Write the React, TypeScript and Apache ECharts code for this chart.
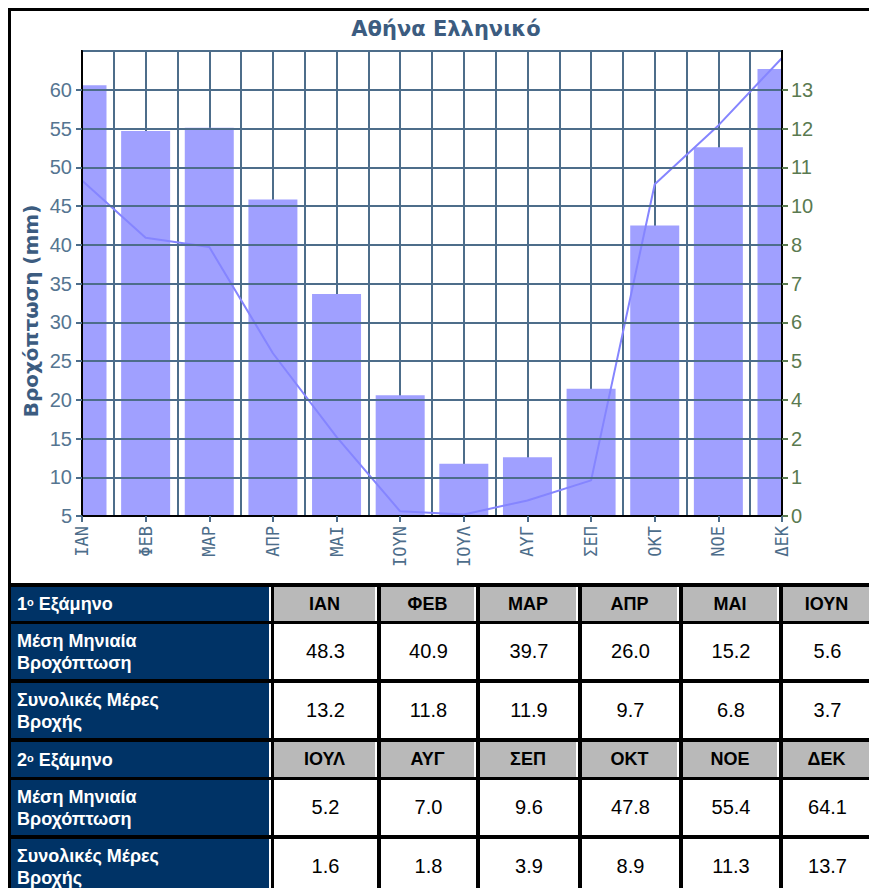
import React, { useEffect, useRef } from "react";
import * as echarts from "echarts";

const months = ["ΙΑΝ", "ΦΕΒ", "ΜΑΡ", "ΑΠΡ", "ΜΑΙ", "ΙΟΥΝ", "ΙΟΥΛ", "ΑΥΓ", "ΣΕΠ", "ΟΚΤ", "ΝΟΕ", "ΔΕΚ"];
const rainfall = [48.3, 40.9, 39.7, 26.0, 15.2, 5.6, 5.2, 7.0, 9.6, 47.8, 55.4, 64.1];
const rainDays = [13.2, 11.8, 11.9, 9.7, 6.8, 3.7, 1.6, 1.8, 3.9, 8.9, 11.3, 13.7];
const titleText = "Αθήνα Ελληνικό";
const yName = "Βροχόπτωση (mm)";

const semester1 = months.slice(0, 6);
const semester2 = months.slice(6);
const rowLabelRain = ["Μέση Μηνιαία", "Βροχόπτωση"];
const rowLabelDays = ["Συνολικές Μέρες", "Βροχής"];

const GRID_LINE = "#4d6d8a";
const BAR_WIDTH = 49;

function Chart() {
  const ref = useRef<HTMLDivElement>(null);
  useEffect(() => {
    if (!ref.current) return;
    const chart = echarts.init(ref.current, undefined, { renderer: "svg" });
    chart.setOption({
      animation: false,
      grid: {
        left: 71,
        top: 40,
        width: 700,
        height: 465,
        show: true,
        borderColor: "#000",
        borderWidth: 2,
        backgroundColor: "transparent",
      },
      graphic: [
        {
          type: "text",
          x: 435,
          y: 18,
          style: {
            text: titleText,
            fill: "#3c5c80",
            font: "bold 21px 'DejaVu Sans'",
            align: "center",
            verticalAlign: "middle",
          },
        },
        {
          type: "text",
          x: 20,
          y: 300,
          rotation: Math.PI / 2,
          style: {
            text: yName,
            fill: "#3c5c80",
            font: "bold 20px 'DejaVu Sans'",
            align: "center",
            verticalAlign: "middle",
          },
        },
      ],
      xAxis: [
        {
          type: "category",
          data: months,
          boundaryGap: false,
          axisLine: { lineStyle: { color: "#000", width: 2 } },
          axisTick: { show: true, length: 6, lineStyle: { color: "#4d6d8a", width: 2 } },
          axisLabel: {
            rotate: 90,
            margin: 10,
            color: "#4d6d8a",
            fontFamily: "DejaVu Sans Mono",
            fontSize: 17,
            interval: 0,
          },
          splitLine: { show: false },
          z: 5,
        },
        {
          type: "value",
          min: 0,
          max: 22,
          interval: 1,
          position: "top",
          axisLine: { show: false },
          axisTick: { show: false },
          axisLabel: { show: false },
          splitLine: { show: true, lineStyle: { color: GRID_LINE, width: 2 } },
        },
      ],
      yAxis: [
        {
          type: "value",
          min: 5,
          max: 65,
          interval: 5,
          axisLine: { show: true, lineStyle: { color: "#000", width: 2 } },
          axisTick: { show: true, length: 6, lineStyle: { color: "#4d6d8a", width: 2 } },
          axisLabel: {
            showMaxLabel: false,
            margin: 10,
            color: "#557591",
            fontFamily: "Liberation Sans",
            fontSize: 20,
          },
          splitLine: { show: true, lineStyle: { color: GRID_LINE, width: 2 } },
          z: 5,
        },
        {
          type: "value",
          min: 0,
          max: 14.25,
          interval: 1.1875,
          position: "right",
          axisLine: { show: true, lineStyle: { color: "#000", width: 2 } },
          axisTick: { show: true, length: 6, lineStyle: { color: "#5a7a50", width: 2 } },
          axisLabel: {
            showMaxLabel: false,
            margin: 9,
            color: "#5a7a50",
            fontFamily: "Liberation Sans",
            fontSize: 20,
            formatter: (v: number) => String(Math.round(v)),
          },
          splitLine: { show: false },
          z: 5,
        },
      ],
      series: [
        {
          type: "custom",
          name: "days",
          xAxisIndex: 0,
          yAxisIndex: 1,
          clip: true,
          data: rainDays.map((v, i) => [i, v]),
          encode: { x: 0, y: 1 },
          renderItem: (params: any, api: any) => {
            const top = api.coord([api.value(0), api.value(1)]);
            const base = api.coord([api.value(0), 0]);
            return {
              type: "rect",
              shape: {
                x: top[0] - BAR_WIDTH / 2,
                y: top[1],
                width: BAR_WIDTH,
                height: base[1] - top[1],
              },
              style: { fill: "#a0a0ff" },
            };
          },
          z: 2,
        },
        {
          type: "line",
          data: rainfall,
          xAxisIndex: 0,
          yAxisIndex: 0,
          symbol: "none",
          lineStyle: { color: "#8585ff", width: 2 },
          z: 3,
        },
      ],
    });
    return () => chart.dispose();
  }, []);
  return (
    <div
      ref={ref}
      style={{ position: "absolute", left: 3, top: 3, width: 866, height: 572 }}
    />
  );
}

// page coordinates -> container coordinates (container at page 8,8)
const OX = 8;
const OY = 8;
const rowsY: [number, number][] = [
  [587, 621],
  [624, 679],
  [683, 738],
  [742, 777],
  [780, 835],
  [839, 894],
];
const colsX: [number, number][] = [
  [274, 377],
  [381, 476],
  [480, 578],
  [582, 679],
  [683, 779],
  [783, 872],
];

function cellStyle(x0: number, x1: number, y0: number, y1: number): React.CSSProperties {
  return {
    position: "absolute",
    left: x0 - OX,
    top: y0 - OY,
    width: x1 - x0,
    height: y1 - y0,
    boxSizing: "border-box",
    display: "flex",
    alignItems: "center",
  };
}

function Table() {
  const cells: React.ReactNode[] = [];
  const rowDefs = [
    { kind: "head", label: "1", values: semester1 },
    { kind: "data", label: rowLabelRain, values: rainfall.slice(0, 6).map((v) => v.toFixed(1)) },
    { kind: "data", label: rowLabelDays, values: rainDays.slice(0, 6).map((v) => v.toFixed(1)) },
    { kind: "head", label: "2", values: semester2 },
    { kind: "data", label: rowLabelRain, values: rainfall.slice(6).map((v) => v.toFixed(1)) },
    { kind: "data", label: rowLabelDays, values: rainDays.slice(6).map((v) => v.toFixed(1)) },
  ];
  rowDefs.forEach((r, ri) => {
    const [y0, y1] = rowsY[ri];
    cells.push(
      <div
        key={`l${ri}`}
        style={{
          ...cellStyle(11, 271, y0, y1),
          background: "#003366",
          borderRight: "2px solid #fff",
          color: "#fff",
          fontFamily: "'Liberation Sans', Arial, sans-serif",
          fontWeight: "bold",
          fontSize: 18,
          lineHeight: "22px",
          paddingLeft: 6,
        }}
      >
        {r.kind === "head" ? (
          <span>
            {r.label as string}
            <sup style={{ fontSize: 11, verticalAlign: "top", position: "relative", top: -2 }}>o</sup> Εξάμηνο
          </span>
        ) : (
          <span>
            {(r.label as string[])[0]}
            <br />
            {(r.label as string[])[1]}
          </span>
        )}
      </div>
    );
    r.values.forEach((v, ci) => {
      const [x0, x1] = colsX[ci];
      const head = r.kind === "head";
      cells.push(
        <div
          key={`c${ri}-${ci}`}
          style={{
            ...cellStyle(x0, x1, y0, y1),
            justifyContent: "center",
            background: head ? "#b9b9b9" : "#fff",
            borderRight: head ? "2px solid #fff" : undefined,
            color: "#000",
            fontFamily: "'Liberation Sans', Arial, sans-serif",
            fontWeight: head ? "bold" : "normal",
            fontSize: head ? 18 : 20,
          }}
        >
          {v}
        </div>
      );
    });
  });
  return (
    <>
      <div
        style={{
          position: "absolute",
          left: 11 - OX,
          top: 583 - OY,
          width: 900,
          height: 320,
          background: "#000",
        }}
      />
      {cells}
    </>
  );
}

export default function App() {
  return (
    <div style={{ position: "relative", width: 869, height: 880, overflow: "hidden", background: "#fff" }}>
      <div
        style={{
          position: "absolute",
          left: 0,
          top: 0,
          width: 900,
          height: 900,
          borderLeft: "3px solid #000",
          borderTop: "3px solid #000",
          boxSizing: "border-box",
        }}
      />
      <Chart />
      <Table />
    </div>
  );
}
